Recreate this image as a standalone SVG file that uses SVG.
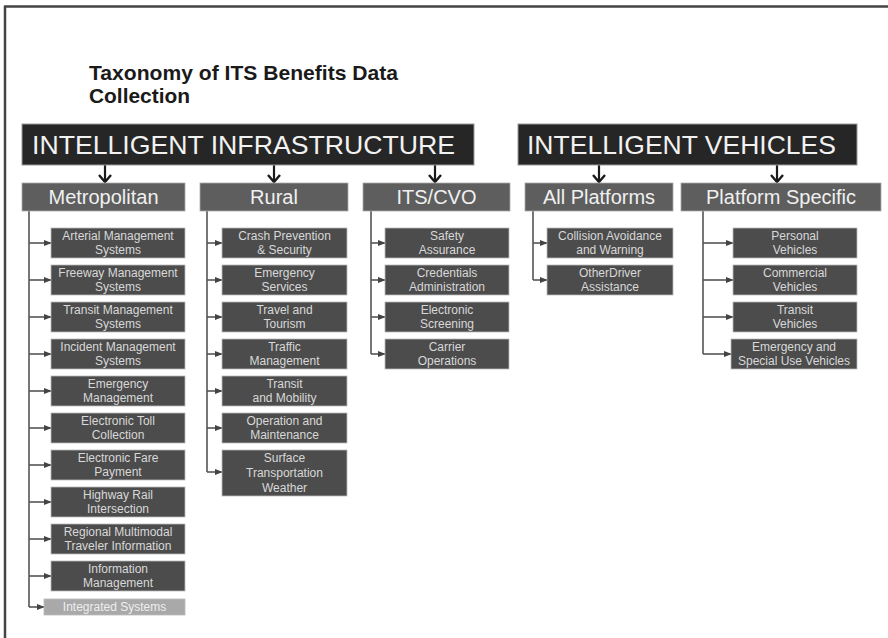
<svg xmlns="http://www.w3.org/2000/svg" width="888" height="638" viewBox="0 0 888 638">
<defs>
<style>
.title{font-family:"Liberation Sans",Arial,sans-serif;font-weight:bold;font-size:21px;fill:#1a1a1a}
.top rect{fill:#262626;stroke:#9a9a9a;stroke-width:1}
.top text{font-family:"Liberation Sans",Arial,sans-serif;font-size:26px;fill:#f2f2f2}
.sub rect{fill:#5e5e5e;stroke:#aaa;stroke-width:0.8}
.sub text{font-family:"Liberation Sans",Arial,sans-serif;font-size:20px;fill:#f0f0f0;text-anchor:middle}
.leaf rect{fill:#4c4c4c;stroke:#bbb;stroke-width:0.8}
.leaf text{font-family:"Liberation Sans",Arial,sans-serif;font-size:12px;fill:#d8d8d8;text-anchor:middle}
.leaf.light rect{fill:#a9a9a9}
.leaf.light text{fill:#eeeeee}
.conn path{fill:none;stroke:#555;stroke-width:1.6}
.conn .big{stroke:#1a1a1a;stroke-width:2.2}
</style>
<marker id="ah" viewBox="0 0 10 10" refX="9" refY="5" markerWidth="8" markerHeight="8" orient="auto" markerUnits="userSpaceOnUse">
<path d="M0,1 L10,5 L0,9 z" fill="#444"/>
</marker>
<marker id="chev" viewBox="0 0 14 10" refX="7" refY="9" markerWidth="14" markerHeight="10" orient="0" markerUnits="userSpaceOnUse">
<path d="M1,2 L7,9 L13,2" fill="none" stroke="#1a1a1a" stroke-width="2.4"/>
</marker>
</defs>
<rect x="0" y="0" width="888" height="638" fill="#ffffff"/>
<path d="M4,6.5 H888 M5,6 V638" stroke="#444" stroke-width="2.5" fill="none"/>

<g id="title">
<text class="title" x="89" y="80" textLength="309" lengthAdjust="spacingAndGlyphs">Taxonomy of ITS Benefits Data</text>
<text class="title" x="89" y="103" textLength="101" lengthAdjust="spacingAndGlyphs">Collection</text>
</g>

<g id="connectors" class="conn">
<path class="big" d="M105,165 V182" marker-end="url(#chev)"/>
<path class="big" d="M274,165 V182" marker-end="url(#chev)"/>
<path class="big" d="M435,165 V182" marker-end="url(#chev)"/>
<path class="big" d="M599,165 V182" marker-end="url(#chev)"/>
<path class="big" d="M777,165 V182" marker-end="url(#chev)"/>
<!-- Metropolitan -->
<path d="M29,211 V607"/>
<path d="M29,243 H51" marker-end="url(#ah)"/>
<path d="M29,280 H51" marker-end="url(#ah)"/>
<path d="M29,317 H51" marker-end="url(#ah)"/>
<path d="M29,354 H51" marker-end="url(#ah)"/>
<path d="M29,391 H51" marker-end="url(#ah)"/>
<path d="M29,428 H51" marker-end="url(#ah)"/>
<path d="M29,465 H51" marker-end="url(#ah)"/>
<path d="M29,502 H51" marker-end="url(#ah)"/>
<path d="M29,539 H51" marker-end="url(#ah)"/>
<path d="M29,576 H51" marker-end="url(#ah)"/>
<path d="M29,607 H44" marker-end="url(#ah)"/>
<!-- Rural -->
<path d="M207,211 V472"/>
<path d="M207,243 H222" marker-end="url(#ah)"/>
<path d="M207,280 H222" marker-end="url(#ah)"/>
<path d="M207,317 H222" marker-end="url(#ah)"/>
<path d="M207,354 H222" marker-end="url(#ah)"/>
<path d="M207,391 H222" marker-end="url(#ah)"/>
<path d="M207,428 H222" marker-end="url(#ah)"/>
<path d="M207,472 H222" marker-end="url(#ah)"/>
<!-- ITS/CVO -->
<path d="M371,211 V354"/>
<path d="M371,243 H385" marker-end="url(#ah)"/>
<path d="M371,280 H385" marker-end="url(#ah)"/>
<path d="M371,317 H385" marker-end="url(#ah)"/>
<path d="M371,354 H385" marker-end="url(#ah)"/>
<!-- All Platforms -->
<path d="M533,211 V280"/>
<path d="M533,243 H547" marker-end="url(#ah)"/>
<path d="M533,280 H547" marker-end="url(#ah)"/>
<!-- Platform Specific -->
<path d="M703,211 V354"/>
<path d="M703,243 H733" marker-end="url(#ah)"/>
<path d="M703,280 H733" marker-end="url(#ah)"/>
<path d="M703,317 H733" marker-end="url(#ah)"/>
<path d="M703,354 H731" marker-end="url(#ah)"/>
</g>

<g id="intelligent-infrastructure" class="top">
<rect x="22" y="124" width="452" height="41"/>
<text x="32" y="154" textLength="423" lengthAdjust="spacingAndGlyphs">INTELLIGENT INFRASTRUCTURE</text>
</g>
<g id="intelligent-vehicles" class="top">
<rect x="518" y="124" width="339" height="41"/>
<text x="527" y="154" textLength="309" lengthAdjust="spacingAndGlyphs">INTELLIGENT VEHICLES</text>
</g>

<g id="metropolitan" class="sub"><rect x="22" y="183" width="163" height="28"/><text x="103.5" y="204">Metropolitan</text></g>
<g id="rural" class="sub"><rect x="200" y="183" width="148" height="28"/><text x="274" y="204">Rural</text></g>
<g id="its-cvo" class="sub"><rect x="363" y="183" width="147" height="28"/><text x="436.5" y="204">ITS/CVO</text></g>
<g id="all-platforms" class="sub"><rect x="525" y="183" width="148" height="28"/><text x="599" y="204">All Platforms</text></g>
<g id="platform-specific" class="sub"><rect x="681" y="183" width="200" height="28"/><text x="781" y="204">Platform Specific</text></g>

<!-- Metropolitan leaves -->
<g id="arterial" class="leaf"><rect x="51" y="228" width="134" height="30"/><text x="118" y="240">Arterial Management</text><text x="118" y="254">Systems</text></g>
<g id="freeway" class="leaf"><rect x="51" y="265" width="134" height="30"/><text x="118" y="277">Freeway Management</text><text x="118" y="291">Systems</text></g>
<g id="transit-mgmt" class="leaf"><rect x="51" y="302" width="134" height="30"/><text x="118" y="314">Transit Management</text><text x="118" y="328">Systems</text></g>
<g id="incident" class="leaf"><rect x="51" y="339" width="134" height="30"/><text x="118" y="351">Incident Management</text><text x="118" y="365">Systems</text></g>
<g id="emergency-mgmt" class="leaf"><rect x="51" y="376" width="134" height="30"/><text x="118" y="388">Emergency</text><text x="118" y="402">Management</text></g>
<g id="toll" class="leaf"><rect x="51" y="413" width="134" height="30"/><text x="118" y="425">Electronic Toll</text><text x="118" y="439">Collection</text></g>
<g id="fare" class="leaf"><rect x="51" y="450" width="134" height="30"/><text x="118" y="462">Electronic Fare</text><text x="118" y="476">Payment</text></g>
<g id="highway-rail" class="leaf"><rect x="51" y="487" width="134" height="30"/><text x="118" y="499">Highway Rail</text><text x="118" y="513">Intersection</text></g>
<g id="regional" class="leaf"><rect x="51" y="524" width="134" height="30"/><text x="118" y="536">Regional Multimodal</text><text x="118" y="550">Traveler Information</text></g>
<g id="information" class="leaf"><rect x="51" y="561" width="134" height="30"/><text x="118" y="573">Information</text><text x="118" y="587">Management</text></g>
<g id="integrated" class="leaf light"><rect x="44" y="599" width="141" height="16"/><text x="114.5" y="611">Integrated Systems</text></g>

<!-- Rural leaves -->
<g id="crash" class="leaf"><rect x="222" y="228" width="125" height="30"/><text x="284.5" y="240">Crash Prevention</text><text x="284.5" y="254">&amp; Security</text></g>
<g id="emergency-services" class="leaf"><rect x="222" y="265" width="125" height="30"/><text x="284.5" y="277">Emergency</text><text x="284.5" y="291">Services</text></g>
<g id="travel" class="leaf"><rect x="222" y="302" width="125" height="30"/><text x="284.5" y="314">Travel and</text><text x="284.5" y="328">Tourism</text></g>
<g id="traffic" class="leaf"><rect x="222" y="339" width="125" height="30"/><text x="284.5" y="351">Traffic</text><text x="284.5" y="365">Management</text></g>
<g id="transit-mobility" class="leaf"><rect x="222" y="376" width="125" height="30"/><text x="284.5" y="388">Transit</text><text x="284.5" y="402">and Mobility</text></g>
<g id="operation" class="leaf"><rect x="222" y="413" width="125" height="30"/><text x="284.5" y="425">Operation and</text><text x="284.5" y="439">Maintenance</text></g>
<g id="weather" class="leaf"><rect x="222" y="450" width="125" height="46"/><text x="284.5" y="462">Surface</text><text x="284.5" y="477">Transportation</text><text x="284.5" y="492">Weather</text></g>

<!-- ITS/CVO leaves -->
<g id="safety" class="leaf"><rect x="385" y="228" width="124" height="30"/><text x="447" y="240">Safety</text><text x="447" y="254">Assurance</text></g>
<g id="credentials" class="leaf"><rect x="385" y="265" width="124" height="30"/><text x="447" y="277">Credentials</text><text x="447" y="291">Administration</text></g>
<g id="screening" class="leaf"><rect x="385" y="302" width="124" height="30"/><text x="447" y="314">Electronic</text><text x="447" y="328">Screening</text></g>
<g id="carrier" class="leaf"><rect x="385" y="339" width="124" height="30"/><text x="447" y="351">Carrier</text><text x="447" y="365">Operations</text></g>

<!-- All Platforms leaves -->
<g id="collision" class="leaf"><rect x="547" y="228" width="126" height="30"/><text x="610" y="240">Collision Avoidance</text><text x="610" y="254">and Warning</text></g>
<g id="other-driver" class="leaf"><rect x="547" y="265" width="126" height="30"/><text x="610" y="277">OtherDriver</text><text x="610" y="291">Assistance</text></g>

<!-- Platform Specific leaves -->
<g id="personal" class="leaf"><rect x="733" y="228" width="124" height="30"/><text x="795" y="240">Personal</text><text x="795" y="254">Vehicles</text></g>
<g id="commercial" class="leaf"><rect x="733" y="265" width="124" height="30"/><text x="795" y="277">Commercial</text><text x="795" y="291">Vehicles</text></g>
<g id="transit-vehicles" class="leaf"><rect x="733" y="302" width="124" height="30"/><text x="795" y="314">Transit</text><text x="795" y="328">Vehicles</text></g>
<g id="special-use" class="leaf"><rect x="731" y="339" width="126" height="30"/><text x="794" y="351">Emergency and</text><text x="794" y="365">Special Use Vehicles</text></g>
</svg>
